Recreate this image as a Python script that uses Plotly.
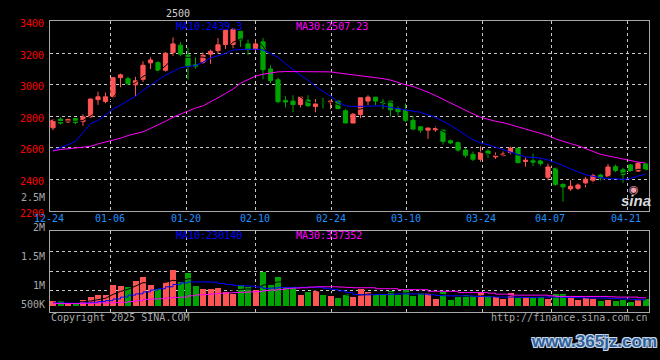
import plotly.graph_objects as go
import pandas as pd

# ---------------- data ----------------
opens = [2727, 2782, 2764, 2786, 2768, 2796, 2905, 2894, 2925, 3044,
         3038, 2999, 3034, 3138, 3140, 3091, 3203, 3250, 3187, 3126,
         3142, 3193, 3215, 3254, 3254, 3338, 3258, 3228, 3271, 3099,
         3031, 2900, 2896, 2874, 2903, 2862, 2888, 2886, 2896, 2835,
         2757, 2811, 2896, 2921, 2890, 2896, 2849, 2837, 2774, 2733,
         2712, 2714, 2712, 2645, 2633, 2586, 2559, 2528, 2580, 2543,
         2551, 2571, 2598, 2514, 2518, 2518, 2414, 2471, 2369, 2340,
         2344, 2375, 2395, 2428, 2420, 2481, 2461, 2492, 2453, 2498]
highs = [2780, 2794, 2784, 2786, 2813, 2912, 2956, 2950, 3044, 3070,
         3050, 3050, 3148, 3173, 3148, 3205, 3299, 3269, 3234, 3173,
         3203, 3222, 3295, 3344, 3357, 3338, 3287, 3279, 3296, 3123,
         3044, 2927, 2933, 2921, 2933, 2909, 2917, 2896, 2896, 2845,
         2821, 2917, 2933, 2921, 2909, 2896, 2862, 2882, 2804, 2737,
         2729, 2737, 2717, 2653, 2641, 2598, 2577, 2610, 2590, 2571,
         2577, 2608, 2598, 2539, 2563, 2533, 2504, 2477, 2375, 2395,
         2375, 2416, 2436, 2436, 2498, 2494, 2473, 2498, 2510, 2504]
lows = [2712, 2747, 2759, 2749, 2739, 2792, 2872, 2882, 2913, 2984,
        2995, 2927, 3017, 3099, 3076, 3083, 3183, 3177, 3033, 3101,
        3132, 3132, 3197, 3224, 3230, 3238, 3187, 3213, 3034, 3009,
        2882, 2856, 2825, 2856, 2860, 2825, 2849, 2845, 2843, 2757,
        2757, 2788, 2870, 2870, 2845, 2798, 2804, 2764, 2712, 2696,
        2657, 2702, 2620, 2625, 2575, 2539, 2516, 2512, 2535, 2530,
        2547, 2559, 2506, 2481, 2485, 2487, 2395, 2359, 2260, 2328,
        2334, 2350, 2375, 2389, 2412, 2447, 2379, 2447, 2447, 2457]
closes = [2774, 2757, 2780, 2760, 2796, 2909, 2923, 2923, 3044, 3062,
          3007, 3025, 3123, 3156, 3091, 3199, 3258, 3193, 3117, 3118,
          3185, 3211, 3252, 3344, 3350, 3283, 3222, 3258, 3095, 3027,
          2892, 2890, 2874, 2921, 2866, 2878, 2886, 2896, 2849, 2757,
          2813, 2917, 2921, 2896, 2880, 2841, 2829, 2774, 2719, 2712,
          2725, 2723, 2641, 2631, 2586, 2553, 2528, 2571, 2559, 2551,
          2561, 2598, 2506, 2522, 2510, 2500, 2479, 2369, 2353, 2357,
          2365, 2402, 2424, 2410, 2479, 2457, 2432, 2453, 2502, 2463]
ma10 = [2584, 2600, 2620, 2641, 2698, 2753, 2774, 2809, 2845, 2870,
        2897, 2927, 2964, 2999, 3029, 3060, 3081, 3107, 3115, 3121,
        3142, 3169, 3183, 3197, 3220, 3224, 3224, 3224, 3220, 3197,
        3173, 3132, 3095, 3060, 3029, 2989, 2958, 2927, 2890, 2866,
        2862, 2862, 2866, 2866, 2866, 2856, 2849, 2839, 2831, 2825,
        2809, 2794, 2768, 2743, 2712, 2682, 2651, 2631, 2620, 2604,
        2590, 2575, 2559, 2543, 2539, 2535, 2524, 2508, 2488, 2467,
        2447, 2430, 2420, 2412, 2404, 2404, 2400, 2406, 2422, 2432]
ma30 = [2580, 2590, 2594, 2600, 2606, 2610, 2625, 2637, 2651, 2661,
        2678, 2688, 2702, 2723, 2743, 2768, 2794, 2815, 2835, 2852,
        2866, 2890, 2917, 2944, 2972, 3009, 3034, 3054, 3066, 3074,
        3081, 3083, 3083, 3085, 3085, 3085, 3085, 3081, 3074, 3068,
        3064, 3060, 3054, 3046, 3038, 3029, 3013, 2999, 2989, 2972,
        2952, 2931, 2907, 2882, 2862, 2835, 2815, 2794, 2780, 2768,
        2760, 2747, 2733, 2719, 2706, 2692, 2678, 2657, 2641, 2627,
        2614, 2596, 2575, 2559, 2549, 2539, 2526, 2518, 2510, 2504]
volumes = [125, 108, 67, 50, 133, 217, 267, 267, 542, 517,
           492, 642, 742, 533, 442, 617, 917, 617, 833, 517,
           442, 417, 467, 342, 300, 542, 492, 408, 875, 525,
           742, 475, 475, 275, 342, 383, 275, 250, 200, 300,
           217, 417, 342, 275, 275, 375, 275, 417, 250, 333,
           317, 167, 358, 142, 217, 275, 250, 342, 250, 217,
           167, 317, 192, 250, 217, 217, 167, 292, 292, 233,
           150, 200, 183, 125, 150, 125, 167, 100, 183, 175]  # thousands
vol_ma10 = [67, 67, 58, 58, 67, 83, 100, 125, 167, 217,
            267, 300, 350, 400, 433, 483, 542, 583, 608, 608,
            608, 600, 567, 542, 517, 508, 500, 475, 442, 450,
            467, 467, 467, 467, 467, 467, 442, 417, 375, 333,
            283, 275, 275, 283, 283, 292, 300, 300, 300, 292,
            275, 258, 250, 250, 250, 250, 233, 233, 225, 217,
            217, 217, 208, 208, 208, 217, 217, 217, 208, 208,
            200, 192, 192, 192, 183, 175, 167, 158, 150, 150]
vol_ma30 = [50, 50, 50, 50, 58, 58, 67, 67, 75, 83,
            100, 125, 158, 167, 175, 192, 208, 217, 250, 275,
            283, 300, 317, 325, 333, 342, 350, 358, 383, 400,
            417, 442, 450, 458, 475, 483, 483, 483, 475, 467,
            458, 458, 458, 433, 433, 433, 408, 408, 408, 408,
            367, 367, 367, 367, 333, 333, 333, 333, 317, 292,
            292, 267, 267, 267, 267, 267, 250, 233, 233, 233,
            233, 233, 233, 233, 225, 217, 217, 217, 200, 183]
date_labels = ["12-24", "01-06", "01-20", "02-10", "02-24",
               "03-10", "03-24", "04-07", "04-21"]
price_ticks = [2200, 2400, 2600, 2800, 3000, 3200, 3400]
vol_labels = ["2M", "1.5M", "1M", "500K"]
title_text = "2500"
price_legend = ["MA10:2439.3", "MA30:2507.23"]
vol_legend = ["MA10:230140", "MA30:337352"]

# ---------------- derived ----------------
idx = list(range(len(closes)))
vols = [v * 1000 for v in volumes]
vma10 = [v * 1000 for v in vol_ma10]
vma30 = [v * 1000 for v in vol_ma30]
ma5 = pd.Series(closes).rolling(5, min_periods=1).mean().tolist()
vma5 = pd.Series(vols).rolling(5, min_periods=1).mean().tolist()

RED = "#ff5454"
GREEN = "#00a400"
BLUE = "#0000ff"
MAG = "#ff00ff"
GRID = "#c8c8c8"
FRAME = "#a8a8a8"
GRAY = "#a8a8a8"
MONO = "DejaVu Sans Mono"

W, H = 660, 360
def px(x):
    return x / W
def py(y):
    return 1 - y / H

def xd(p):  # pixel -> candle index coordinate
    return (p - 53) / 7.5

bar_colors = [RED if c >= o else GREEN for o, c in zip(opens, closes)]

fig = go.Figure()
fig.add_trace(go.Candlestick(
    x=idx, open=opens, high=highs, low=lows, close=closes,
    increasing=dict(line=dict(color=RED, width=1), fillcolor=RED),
    decreasing=dict(line=dict(color=GREEN, width=1), fillcolor=GREEN),
    whiskerwidth=0, xaxis="x", yaxis="y", showlegend=False, hoverinfo="skip"))
fig.add_trace(go.Scatter(x=idx, y=ma5, mode="lines", line=dict(color="#000000", width=1),
                         xaxis="x", yaxis="y", showlegend=False, hoverinfo="skip"))
fig.add_trace(go.Scatter(x=idx, y=ma10, mode="lines", line=dict(color=BLUE, width=1),
                         xaxis="x", yaxis="y", showlegend=False))
fig.add_trace(go.Scatter(x=idx, y=ma30, mode="lines", line=dict(color=MAG, width=1),
                         xaxis="x", yaxis="y", showlegend=False))

fig.add_trace(go.Bar(x=idx, y=vols, width=0.8, marker=dict(color=bar_colors, line=dict(width=0)),
                     xaxis="x2", yaxis="y2", showlegend=False))
fig.add_trace(go.Scatter(x=idx, y=vma5, mode="lines", line=dict(color="#000000", width=1),
                         xaxis="x2", yaxis="y2", showlegend=False, hoverinfo="skip"))
fig.add_trace(go.Scatter(x=idx, y=vma10, mode="lines", line=dict(color=BLUE, width=1, shape="hv"),
                         xaxis="x2", yaxis="y2", showlegend=False))
fig.add_trace(go.Scatter(x=idx, y=vma30, mode="lines", line=dict(color=MAG, width=1, shape="hv"),
                         xaxis="x2", yaxis="y2", showlegend=False))

grid_px = [110.3, 186.7, 255.3, 331.3, 406.3, 482.3, 551.3, 627.3]
grid_x = [xd(p) for p in grid_px]
xrange = [xd(50), xd(649)]

common_x = dict(range=xrange, tickvals=grid_x, showticklabels=False, ticks="",
                showgrid=True, gridcolor=GRID, griddash="dot", gridwidth=1,
                zeroline=False, showline=True, linecolor=FRAME, linewidth=1, mirror=True,
                fixedrange=True)

fig.update_layout(
    width=W, height=H,
    margin=dict(l=0, r=0, t=0, b=0),
    paper_bgcolor="#000000", plot_bgcolor="#000000",
    boxgap=0.2,
    bargap=0,
    showlegend=False,
    xaxis=dict(domain=[px(50), px(649)], anchor="y", rangeslider=dict(visible=False), **common_x),
    yaxis=dict(domain=[py(213.6), py(18)], range=[2200, 3400], tickvals=price_ticks,
               tickfont=dict(family=MONO, size=10, color="#ff0000"),
               ticks="", ticklabelstandoff=3, ticklabelshift=2,
               showgrid=True, gridcolor=GRID, griddash="dot", gridwidth=1,
               zeroline=False, showline=True, linecolor=FRAME, linewidth=1, mirror=True,
               anchor="x", fixedrange=True),
    xaxis2=dict(domain=[px(50), px(649)], anchor="y2", matches="x", **common_x),
    yaxis2=dict(domain=[py(318), py(234)], range=[-175000, 1925000],
                tickvals=[382500, 882500, 1392500], showticklabels=False, ticks="",
                showgrid=True, gridcolor=GRID, griddash="dot", gridwidth=1,
                zeroline=False, showline=True, linecolor=FRAME, linewidth=1, mirror=True,
                anchor="x2", fixedrange=True),
)

ann = []
def txt(t, x, y, color, xanchor="left", size=10, family=MONO, **kw):
    ann.append(dict(text=t, x=px(x), y=py(y), xref="paper", yref="paper",
                    xanchor=xanchor, yanchor="middle", showarrow=False,
                    font=dict(family=family, size=size, color=color), **kw))

txt(title_text, 178, 10, "#d0d0d0", xanchor="center")
txt(price_legend[0], 174, 23, BLUE)
txt(price_legend[1], 294, 23, MAG)
txt("2.5M", 47, 200, GRAY, xanchor="right")
label_px = [49, 109.5, 186, 254.5, 331, 405.5, 481.5, 550, 626]
for lab, p in zip(date_labels, label_px):
    txt(lab, p, 221, "#1e90ff", xanchor="center")
for lab, y in zip(vol_labels, [231, 260, 290, 310]):
    txt(lab, 47, y, GRAY, xanchor="right")
txt(vol_legend[0], 174, 239, BLUE)
txt(vol_legend[1], 294, 239, MAG)
txt("Copyright 2025 SINA.COM", 49, 323.5, GRAY)
txt("http://finance.sina.com.cn", 650, 323.5, GRAY, xanchor="right")
# sina logo
ann.append(dict(text="<b><i>sina</i></b>", x=px(636), y=py(203), xref="paper", yref="paper",
                xanchor="center", yanchor="middle", showarrow=False,
                font=dict(family="Liberation Sans", size=15, color="#d8d8d8")))
ann.append(dict(text="◉", x=px(634), y=py(191), xref="paper", yref="paper",
                xanchor="center", yanchor="middle", showarrow=False,
                font=dict(family="DejaVu Sans", size=11, color="#f0a0b0")))
# watermark
ann.append(dict(text="<b>www.365jz.com</b>", x=px(594), y=py(348), xref="paper", yref="paper",
                xanchor="center", yanchor="middle", showarrow=False,
                font=dict(family="Liberation Sans", size=17, color="#2f5f9a",
                          shadow="-1px -1px 0 #c8d8e8, 1px -1px 0 #c8d8e8, -1px 1px 0 #c8d8e8, 1px 1px 0 #c8d8e8")))
fig.update_layout(annotations=ann)

fig.write_html("out.html", config={"displayModeBar": False},
               post_script="document.body.style.margin='0';document.body.style.padding='0';"
                           "document.body.style.background='#000';document.body.style.overflow='hidden';")
